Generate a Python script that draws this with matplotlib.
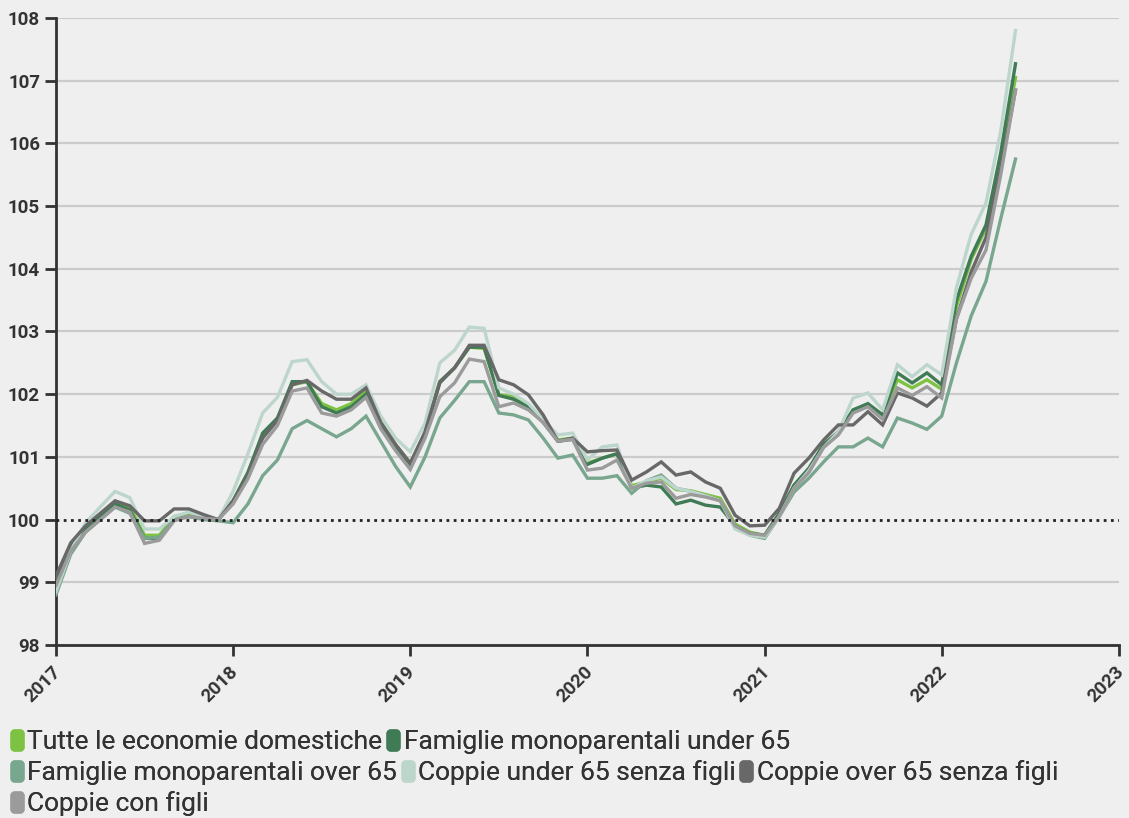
import numpy as np
import matplotlib.pyplot as plt
import matplotlib.transforms as mtransforms
from matplotlib.path import Path
from matplotlib.lines import Line2D

plt.rcParams['font.family'] = ['Roboto', 'DejaVu Sans']

# monthly index values, Jan 2017 - Jun 2022
tutte = [99.0, 99.6, 99.85, 100.05, 100.25, 100.2, 99.75, 99.75, 100.05, 100.1, 100.05, 100.0,
         100.3, 100.75, 101.35, 101.6, 102.15, 102.2, 101.85, 101.75, 101.85, 102.05, 101.55, 101.2,
         100.9, 101.38, 102.2, 102.42, 102.75, 102.73, 101.99, 101.96, 101.83, 101.59, 101.27, 101.3,
         100.9, 100.98, 101.05, 100.54, 100.6, 100.66, 100.48, 100.46, 100.4, 100.34, 99.93, 99.8,
         99.75, 100.1, 100.55, 100.8, 101.2, 101.38, 101.75, 101.83, 101.67, 102.23, 102.1, 102.23,
         102.08, 103.4, 104.15, 104.65, 105.8, 107.05]
mono_under = [99.0, 99.6, 99.85, 100.05, 100.25, 100.15, 99.7, 99.7, 100.0, 100.05, 100.02, 100.0,
              100.3, 100.75, 101.38, 101.62, 102.2, 102.2, 101.8, 101.7, 101.8, 102.0, 101.5, 101.15,
              100.88, 101.38, 102.18, 102.42, 102.75, 102.75, 101.98, 101.92, 101.8, 101.55, 101.25, 101.28,
              100.88, 100.98, 101.05, 100.5, 100.55, 100.52, 100.25, 100.31, 100.23, 100.2, 99.9, 99.78,
              99.75, 100.1, 100.55, 100.82, 101.2, 101.4, 101.75, 101.85, 101.67, 102.34, 102.18, 102.34,
              102.15, 103.5, 104.2, 104.7, 105.85, 107.27]
mono_over = [98.8, 99.45, 99.8, 100.0, 100.2, 100.1, 99.7, 99.72, 100.0, 100.05, 100.0, 99.98,
             99.95, 100.25, 100.7, 100.95, 101.45, 101.58, 101.45, 101.32, 101.45, 101.65, 101.25, 100.85,
             100.52, 101.0, 101.62, 101.9, 102.2, 102.2, 101.7, 101.67, 101.59, 101.3, 100.98, 101.03,
             100.66, 100.66, 100.7, 100.42, 100.62, 100.71, 100.5, 100.45, 100.38, 100.3, 99.88, 99.75,
             99.7, 100.05, 100.44, 100.66, 100.92, 101.16, 101.16, 101.3, 101.16, 101.62, 101.54, 101.44,
             101.65, 102.5, 103.25, 103.8, 104.8, 105.75]
coppie_under = [98.85, 99.5, 99.95, 100.2, 100.45, 100.35, 99.85, 99.85, 100.05, 100.12, 100.05, 100.0,
                100.45, 101.05, 101.7, 101.95, 102.52, 102.55, 102.2, 102.0, 102.0, 102.15, 101.65, 101.3,
                101.08, 101.54, 102.5, 102.7, 103.07, 103.05, 102.1, 102.0, 101.85, 101.6, 101.35, 101.38,
                100.95, 101.16, 101.19, 100.5, 100.62, 100.68, 100.5, 100.45, 100.38, 100.3, 99.85, 99.75,
                99.72, 100.05, 100.5, 100.78, 101.15, 101.4, 101.94, 102.02, 101.75, 102.47, 102.28, 102.47,
                102.31, 103.7, 104.55, 105.05, 106.2, 107.8]
coppie_over = [99.1, 99.63, 99.9, 100.1, 100.3, 100.22, 99.98, 99.98, 100.17, 100.17, 100.08, 100.0,
               100.3, 100.7, 101.3, 101.58, 102.15, 102.22, 102.05, 101.92, 101.92, 102.1, 101.55, 101.2,
               100.9, 101.4, 102.2, 102.42, 102.78, 102.78, 102.23, 102.15, 101.99, 101.67, 101.25, 101.3,
               101.08, 101.1, 101.11, 100.63, 100.76, 100.92, 100.71, 100.76, 100.6, 100.5, 100.07, 99.9,
               99.91, 100.18, 100.74, 100.98, 101.27, 101.51, 101.51, 101.72, 101.51, 102.02, 101.94, 101.81,
               102.02, 103.2, 103.95, 104.5, 105.6, 106.85]
coppie_figli = [98.95, 99.5, 99.8, 100.0, 100.2, 100.12, 99.62, 99.67, 99.98, 100.05, 100.02, 100.0,
                100.25, 100.65, 101.2, 101.5, 102.05, 102.1, 101.7, 101.65, 101.75, 101.95, 101.45, 101.1,
                100.8, 101.3, 101.96, 102.18, 102.56, 102.52, 101.8, 101.86, 101.75, 101.55, 101.25, 101.28,
                100.79, 100.82, 100.95, 100.5, 100.58, 100.6, 100.34, 100.4, 100.36, 100.3, 99.9, 99.78,
                99.75, 100.05, 100.5, 100.75, 101.15, 101.35, 101.7, 101.8, 101.6, 102.1, 101.98, 102.12,
                101.94, 103.2, 103.85, 104.3, 105.5, 106.85]

labels = ["Tutte le economie domestiche", "Famiglie monoparentali under 65",
          "Famiglie monoparentali over 65", "Coppie under 65 senza figli",
          "Coppie over 65 senza figli", "Coppie con figli"]
colors = ["#7dc242", "#3f7b55", "#79a68e", "#bdd6cc", "#686868", "#9b9b9b"]
series = [tutte, mono_under, mono_over, coppie_under, coppie_over, coppie_figli]

t = 2017 + np.arange(len(tutte)) / 12.0
bg = "#efefef"

fig = plt.figure(figsize=(11.29, 8.18), dpi=100, facecolor=bg)
ax = fig.add_axes([0.0496, 0.2115, 0.9414, 0.7665], facecolor=bg)

for y in range(98, 109):
    if y != 100:
        ax.axhline(y, color="#cbcbcb", lw=1.6, zorder=1)
ax.axhline(100, color="#222222", lw=2, ls=(0, (1, 1.6)), zorder=5)

for s, c, l in zip(series, colors, labels):
    ax.plot(t, s, color=c, lw=2.4, label=l, zorder=3, solid_joinstyle="miter")

ax.set_xlim(2017, 2023)
ax.set_ylim(98, 108)
ax.set_yticks(range(98, 109))
ax.set_xticks(range(2017, 2024))
for sp in ["top", "right"]:
    ax.spines[sp].set_visible(False)
for sp in ["left", "bottom"]:
    ax.spines[sp].set_color("#333333")
    ax.spines[sp].set_linewidth(2)
ax.tick_params(axis="both", color="#333333", width=2, length=8, labelsize=13.5, labelcolor="#333333")
ax.tick_params(axis="x", pad=5)
for lab in ax.get_yticklabels():
    lab.set_fontweight("bold")
shift = mtransforms.ScaledTranslation(-4 / 100, 0, fig.dpi_scale_trans)
for lab in ax.get_xticklabels():
    lab.set_fontweight("bold")
    lab.set_rotation(45)
    lab.set_ha("right")
    lab.set_rotation_mode("anchor")
    lab.set_transform(lab.get_transform() + shift)

# rounded tall marker for legend
th = np.linspace(0, np.pi / 2, 8)
r, w, h = 0.3, 0.55, 0.9
pts = []
for cx, cy, a0 in [(w - r, h - r, 0), (-w + r, h - r, np.pi / 2), (-w + r, -h + r, np.pi), (w - r, -h + r, 1.5 * np.pi)]:
    pts += list(zip(cx + r * np.cos(th + a0), cy + r * np.sin(th + a0)))
pts.append(pts[0])
rmark = Path(pts, closed=True)

handles = [Line2D([], [], ls="none", marker=rmark, markersize=15, color=c, label=l)
           for c, l in zip(colors, labels)]
rows = [[0, 1], [2, 3, 4], [5]]
ys = [0.093, 0.055, 0.018]
for row, yy in zip(rows, ys):
    leg = fig.legend([handles[i] for i in row], [labels[i] for i in row], loc="center left",
                     bbox_to_anchor=(0.009, yy), ncol=len(row), frameon=False, fontsize=19,
                     handlelength=0.5, handletextpad=0.15, columnspacing=0.15, borderaxespad=0,
                     borderpad=0.0)
    for txt in leg.get_texts():
        txt.set_color("#333333")
    fig.add_artist(leg)

fig.savefig("out.png", dpi=100, facecolor=bg)
